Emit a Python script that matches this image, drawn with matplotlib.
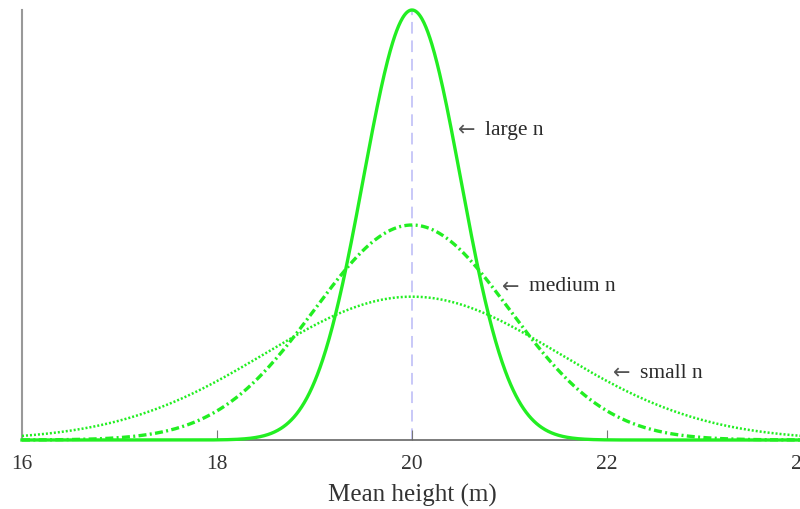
import numpy as np
import matplotlib
matplotlib.use("Agg")
import matplotlib.pyplot as plt

# Data: sampling distributions of the mean height
series_names = ["large n", "medium n", "small n"]
means = [20.0, 20.0, 20.0]
std_devs = [0.5, 1.0, 1.5]
styles = ["-", (0, (2.4, 1.0, 0.6, 1.0)), (0, (0.8, 0.8))]
widths = [2.4, 2.4, 1.8]
label_x = [20.47, 20.92, 22.06]
label_y = [0.575, 0.284, 0.124]
xticks = [16, 18, 20, 22, 24]

plt.rcParams['font.family'] = ['Liberation Serif', 'DejaVu Serif']

fig = plt.figure(figsize=(8, 5.09), dpi=100)
ax = fig.add_axes([22/800, 1-440/509, 8*97.5/800, 430/509])

x = np.linspace(16, 24, 1200)
green = "#22ee22"
for m, s, ls, lw in zip(means, std_devs, styles, widths):
    y = np.exp(-0.5*((x-m)/s)**2)/(s*np.sqrt(2*np.pi))
    ax.plot(x, y, color=green, linestyle=ls, linewidth=lw, zorder=3, clip_on=False)

ymax = 1/(min(std_devs)*np.sqrt(2*np.pi))
ax.axvline(20, color="#c8c8f8", linestyle=(0, (6, 3.5)), linewidth=1.4, zorder=1)

for name, lx, ly in zip(series_names, label_x, label_y):
    ax.text(lx, ly, "\u2190", color="#555555", fontsize=15, va="center", ha="left",
            family=['DejaVu Sans'])
    ax.text(lx + 0.28, ly, name, color="#2a2a2a", fontsize=15.5, va="center", ha="left")

ax.set_xlim(16, 24)
ax.set_ylim(0, ymax)
ax.set_xticks(xticks)
ax.set_yticks([])
ax.tick_params(axis="x", direction="in", length=7, width=0.8, color="#777777",
               labelsize=15.5, labelcolor="#333333", pad=11)
ax.spines["top"].set_visible(False)
ax.spines["right"].set_visible(False)
ax.spines["left"].set_color("#999999")
ax.spines["left"].set_linewidth(1.5)
ax.spines["bottom"].set_color("#666666")
ax.spines["bottom"].set_linewidth(1.2)
ax.set_xlabel("Mean height (m)", fontsize=18, color="#333333", labelpad=7)

fig.savefig("out.png", dpi=100)
